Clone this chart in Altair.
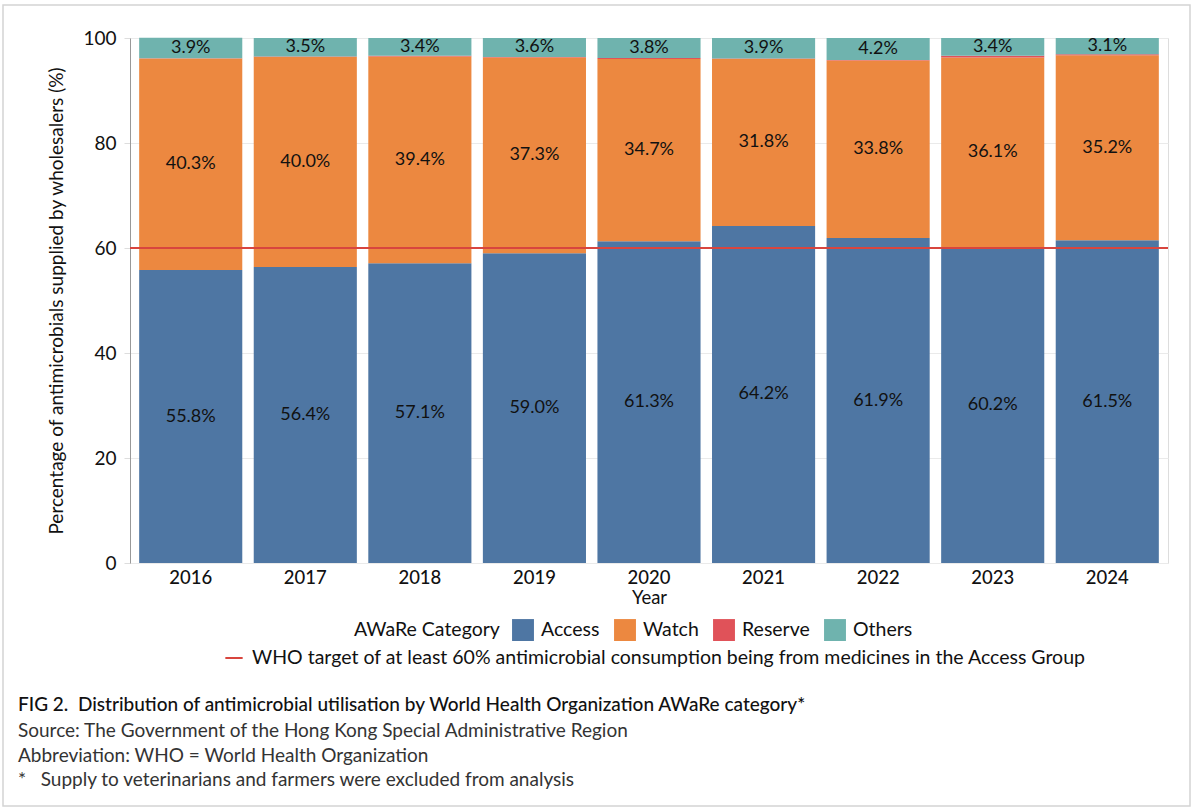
import altair as alt
import pandas as pd

years = ["2016", "2017", "2018", "2019", "2020", "2021", "2022", "2023", "2024"]
access = [55.8, 56.4, 57.1, 59.0, 61.3, 64.2, 61.9, 60.2, 61.5]
watch = [40.3, 40.0, 39.4, 37.3, 34.7, 31.8, 33.8, 36.1, 35.2]
reserve = [0.05, 0.1, 0.1, 0.1, 0.2, 0.1, 0.1, 0.3, 0.2]
others = [3.9, 3.5, 3.4, 3.6, 3.8, 3.9, 4.2, 3.4, 3.1]
categories = ["Access", "Watch", "Reserve", "Others"]
colors = ["#4e76a3", "#ec8840", "#e05259", "#6fb3ae"]
target_value = [60]
target_label = ["WHO target of at least 60% antimicrobial consumption being from medicines in the Access Group"]
caption_title = "FIG 2.\u00a0 Distribution of antimicrobial utilisation by World Health Organization AWaRe category*"
caption_lines = [
    "Source: The Government of the Hong Kong Special Administrative Region",
    "Abbreviation: WHO = World Health Organization",
    "*\u00a0\u00a0\u00a0Supply to veterinarians and farmers were excluded from analysis",
]

FONT = "Lato"
W, H = 1038, 525

rows = []
series = {"Access": access, "Watch": watch, "Reserve": reserve, "Others": others}
for i, y in enumerate(years):
    base = 0.0
    for k, c in enumerate(categories):
        v = series[c][i]
        rows.append({"year": y, "cat": c, "order": k, "value": v,
                     "mid": base + v / 2, "label": f"{v:.1f}%" if c != "Reserve" else ""})
        base += v
df = pd.DataFrame(rows)
df_lab = df[df["cat"] != "Reserve"]

xenc = alt.X("year:N", sort=years,
             scale=alt.Scale(paddingInner=0.1, paddingOuter=0.08),
             axis=alt.Axis(title="Year", labelAngle=0, labelFontSize=18.5, titleFontSize=18.5,
                           titleFontWeight="normal", ticks=False, labelPadding=5,
                           titlePadding=2, domain=False, labelColor="#111", titleColor="#111",
                           labelFont=FONT, titleFont=FONT, labelFontWeight=500))

bars = alt.Chart(df).mark_bar().encode(
    x=xenc,
    y=alt.Y("value:Q", stack="zero", scale=alt.Scale(domain=[0, 100], nice=False),
            axis=alt.Axis(title="Percentage of antimicrobials supplied by wholesalers (%)",
                          values=[0, 20, 40, 60, 80, 100], labelFontSize=19, titleFontSize=19,
                          titleFontWeight="normal", tickSize=6, tickColor="#ddd",
                          labelPadding=8, titlePadding=16, gridColor="#eaeaea",
                          domainColor="#999", labelColor="#111", titleColor="#111",
                          labelFont=FONT, titleFont=FONT)),
    color=alt.Color("cat:N", scale=alt.Scale(domain=categories, range=colors),
                    legend=alt.Legend(title="AWaRe Category", orient="none", legendX=224,
                                      legendY=581, direction="horizontal", titleOrient="left",
                                      symbolType="square", symbolSize=480, symbolStrokeWidth=0,
                                      labelFontSize=19.5, titleFontSize=19.5, titleFontWeight="normal",
                                      columnPadding=14, labelOffset=7, titlePadding=12,
                                      labelFont=FONT, titleFont=FONT, labelColor="#111",
                                      titleColor="#111")),
    order=alt.Order("order:Q", sort="ascending"),
)

labels = alt.Chart(df_lab).mark_text(fontSize=18, color="#111", font=FONT, baseline="middle").encode(
    x=alt.X("year:N", sort=years),
    y=alt.Y("mid:Q"),
    text="label:N",
)

df_t = pd.DataFrame({"y": target_value, "label": target_label})
rule = alt.Chart(df_t).mark_rule(strokeWidth=2).encode(
    y="y:Q",
    stroke=alt.Stroke("label:N", scale=alt.Scale(range=["#d8453e"]),
                      legend=alt.Legend(title=None, orient="none", legendX=94, legendY=610,
                                        symbolType="stroke", symbolStrokeWidth=2, symbolSize=300,
                                        labelFontSize=19.5, labelLimit=1200, labelFont=FONT,
                                        labelColor="#111", labelOffset=8)),
)

cap_layers = []
cap_layers.append(
    alt.Chart(pd.DataFrame({"t": [caption_title]})).mark_text(
        align="left", baseline="middle", fontSize=19, font=FONT, fontWeight=500, color="#111"
    ).encode(text="t:N", x=alt.value(-112), y=alt.value(667))
)
for j, line in enumerate(caption_lines):
    cap_layers.append(
        alt.Chart(pd.DataFrame({"t": [line]})).mark_text(
            align="left", baseline="middle", fontSize=19, font=FONT, color="#333"
        ).encode(text="t:N", x=alt.value(-112), y=alt.value(693 + 24.5 * j))
    )

border = alt.Chart(pd.DataFrame({"a": [0]})).mark_rect(
    fill="transparent", stroke="#d4d4d4", strokeWidth=1.5
).encode(x=alt.value(-127), x2=alt.value(W + 22), y=alt.value(-33), y2=alt.value(H + 243))

chart = alt.layer(border, bars, labels, rule, *cap_layers).resolve_scale(
    color="independent"
).properties(
    width=W, height=H,
    autosize=alt.AutoSizeParams(type="none"),
    padding={"left": 130, "top": 38, "right": 27, "bottom": 247},
).configure_view(stroke="#aaa", strokeWidth=1).configure(font=FONT, background="white")

chart.save("out.html", embed_options={"renderer": "svg", "actions": False})
